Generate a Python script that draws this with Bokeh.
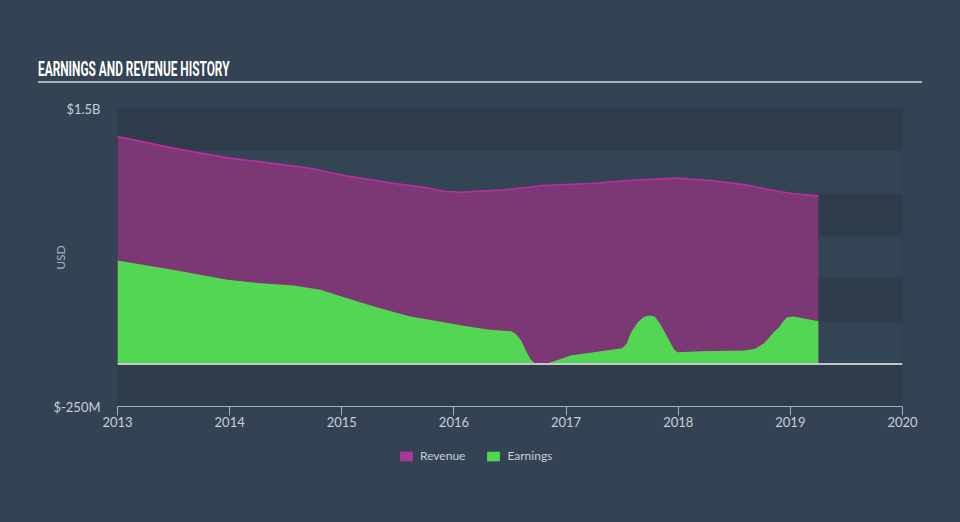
import numpy as np
from bokeh.plotting import figure
from bokeh.models import FixedTicker, Span, Div, Range1d
from bokeh.layouts import column
from bokeh.embed import file_html
from bokeh.resources import INLINE

# ---- data (values in billions USD) ----
rev_years = [2013.0, 2013.53, 2013.98, 2014.42, 2014.72, 2015.02, 2015.46, 2015.76,
             2015.91, 2016.07, 2016.45, 2016.8, 2017.25, 2017.55, 2017.99, 2018.29,
             2018.59, 2018.89, 2019.03, 2019.25]
revenue = [1.335, 1.263, 1.210, 1.175, 1.149, 1.106, 1.061, 1.034,
           1.014, 1.008, 1.022, 1.048, 1.061, 1.077, 1.091, 1.077,
           1.053, 1.014, 0.999, 0.987]

earn_years = [2013.0, 2013.53, 2013.98, 2014.28, 2014.57, 2014.81, 2015.02, 2015.31,
              2015.61, 2015.91, 2016.07, 2016.3, 2016.51, 2016.55, 2016.6, 2016.64,
              2016.68, 2016.72, 2016.76, 2016.8, 2016.86, 2017.04, 2017.31, 2017.5,
              2017.54, 2017.58, 2017.61, 2017.64, 2017.69, 2017.72, 2017.75, 2017.79,
              2017.84, 2017.88, 2017.92, 2017.96, 2017.99, 2018.2, 2018.59, 2018.68,
              2018.76, 2018.8, 2018.85, 2018.9, 2018.93, 2018.97, 2019.03, 2019.25]
earnings = [0.607, 0.548, 0.494, 0.474, 0.460, 0.435, 0.392, 0.333,
            0.278, 0.245, 0.225, 0.202, 0.192, 0.177, 0.137, 0.079,
            0.030, 0.004, -0.006, -0.005, 0.008, 0.049, 0.075, 0.092,
            0.118, 0.186, 0.216, 0.245, 0.274, 0.282, 0.284, 0.278,
            0.235, 0.186, 0.137, 0.088, 0.069, 0.075, 0.079, 0.088,
            0.118, 0.147, 0.186, 0.216, 0.245, 0.274, 0.278, 0.251]

x_ticks = [2013, 2014, 2015, 2016, 2017, 2018, 2019, 2020]
y_ticks = [-0.25, 1.5]
y_tick_labels = {-0.25: "$-250M", 1.5: "$1.5B"}
band_edges = [-0.25, 0, 0.25, 0.5, 0.75, 1.0, 1.25, 1.5]
series_names = ["Revenue", "Earnings"]
series_colors = ["#a83a98", "#53d654"]
title_text = "EARNINGS AND REVENUE HISTORY"

FONT = "Lato"
TXT = "#c9cfd6"
BG = "#334353"
HEADER_H = 84
MAIN_H = 356
LEGEND_H = 522 - HEADER_H - MAIN_H
FRAME_LEFT = 117

# ---- header (title + rule) ----
header = Div(
    text=('<div style="padding:55px 0 0 38px;">'
          '<div style="width:884px;height:28px;border-bottom:2px solid #aab1b9;">'
          '<span style="display:inline-block;white-space:nowrap;margin-top:2px;'
          "font-family:'Roboto';font-weight:bold;font-size:21px;line-height:24px;"
          'color:#ffffff;transform:scaleX(0.565);transform-origin:0 0;">'
          + title_text + '</span></div></div>'),
    width=960, height=HEADER_H, margin=0,
    styles={"background-color": BG, "overflow": "visible"})

# ---- main chart ----
p = figure(width=960, height=MAIN_H, output_backend="svg", toolbar_location=None,
           x_range=(2013, 2020), y_range=(-0.25, 1.5),
           min_border_left=FRAME_LEFT, min_border_right=58, min_border_top=108 - HEADER_H,
           min_border_bottom=MAIN_H - (406 - HEADER_H), margin=0)
p.border_fill_color = BG
p.background_fill_color = "#2e3c4b"
p.outline_line_color = None

p.xgrid.grid_line_color = None
p.ygrid.ticker = FixedTicker(ticks=band_edges)
p.ygrid.grid_line_color = None
p.ygrid.band_fill_color = "#334454"
p.ygrid.band_fill_alpha = 1.0

ea = np.array(earnings)
p.varea(x=rev_years, y1=0, y2=revenue, fill_color="#7b3874")
p.line(rev_years, revenue, line_color="#b8309f", line_width=1.6)
p.varea(x=earn_years, y1=0, y2=np.maximum(ea, 0), fill_color="#53d654")
p.varea(x=earn_years, y1=np.minimum(ea, 0), y2=0, fill_color="#e8403a")

p.add_layout(Span(location=0, dimension="width", line_color="#c4c6c8", line_width=2))

p.xaxis.ticker = FixedTicker(ticks=x_ticks)
p.xaxis.axis_line_color = "#a6b0bc"
p.xaxis.major_tick_line_color = "#a6b0bc"
p.xaxis.major_tick_out = 9
p.xaxis.major_tick_in = 0
p.xaxis.minor_tick_line_color = None
p.xaxis.major_label_standoff = 1
p.xaxis.major_label_text_font = FONT
p.xaxis.major_label_text_font_size = "13px"
p.xaxis.major_label_text_color = TXT

p.yaxis.ticker = FixedTicker(ticks=y_ticks)
p.yaxis.major_label_overrides = y_tick_labels
p.yaxis.axis_line_color = None
p.yaxis.major_tick_line_color = None
p.yaxis.minor_tick_line_color = None
p.yaxis.major_label_standoff = 11
p.yaxis.major_label_text_font = FONT
p.yaxis.major_label_text_font_size = "13px"
p.yaxis.major_label_text_color = TXT
p.yaxis.axis_label = "USD"
p.yaxis.axis_label_text_font = FONT
p.yaxis.axis_label_text_font_style = "normal"
p.yaxis.axis_label_text_font_size = "12px"
p.yaxis.axis_label_text_color = "#a9b2bc"
p.yaxis.axis_label_standoff = -18

# ---- legend strip (its frame is aligned with the main frame by the column) ----
lg = figure(width=960, height=LEGEND_H, output_backend="svg", toolbar_location=None,
            x_range=Range1d(0, 1), y_range=Range1d(0, 1),
            x_axis_location=None, y_axis_location=None,
            min_border=0, margin=0)
lg.border_fill_color = BG
lg.background_fill_color = BG
lg.outline_line_color = None
lg.grid.visible = False
# the series drawn here fall outside this strip's ranges; only their legend swatches show
lg.varea(x=rev_years, y1=0, y2=revenue, fill_color=series_colors[0],
         legend_label=series_names[0])
lg.varea(x=earn_years, y1=0, y2=np.maximum(ea, 0), fill_color=series_colors[1],
         legend_label=series_names[1])
leg = lg.legend[0]
leg.location = (398 - FRAME_LEFT, LEGEND_H - 23)
leg.orientation = "horizontal"
leg.background_fill_alpha = 0
leg.border_line_color = None
leg.padding = 0
leg.margin = 0
leg.spacing = 20
leg.glyph_width = 16
leg.glyph_height = 12
leg.label_standoff = 6
leg.label_text_font = FONT
leg.label_text_font_size = "12px"
leg.label_text_color = TXT

layout = column(header, p, lg, spacing=0, margin=0, styles={"background-color": BG})
open("out.html", "w").write(file_html(layout, INLINE))
